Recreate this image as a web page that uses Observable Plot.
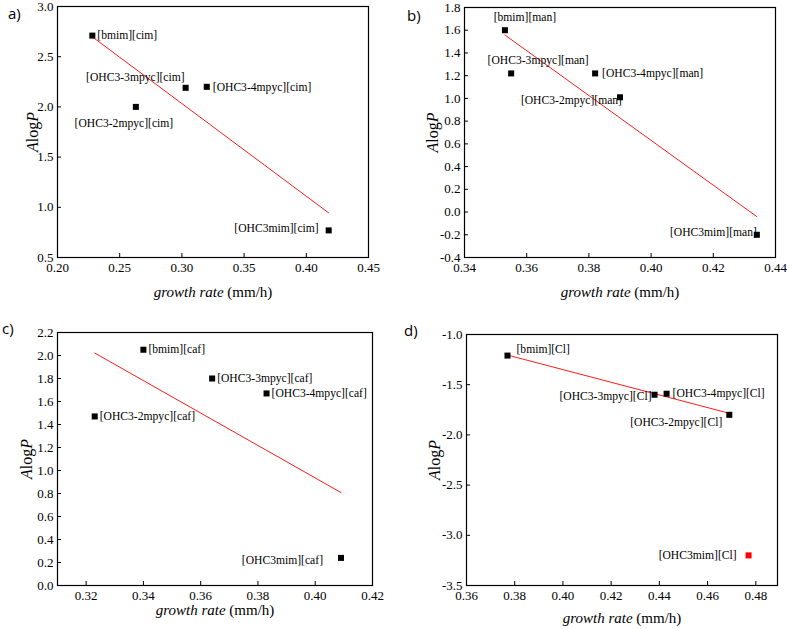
<!DOCTYPE html>
<html><head><meta charset="utf-8">
<script src="https://cdn.jsdelivr.net/npm/d3@7"></script>
<script src="https://cdn.jsdelivr.net/npm/@observablehq/plot@0.6"></script>
<style>
body{margin:0;background:#fff;}
#root{position:relative;width:787px;height:629px;background:#fff;overflow:hidden;}
.panel{position:absolute;line-height:0;}
.panel svg{display:block;}
.letter{position:absolute;font-family:"Open Sans",sans-serif;font-size:15px;line-height:1;color:#000;}
</style></head><body><div id="root"></div>
<script>
// ---- data ----
const cations = ["[bmim]", "[OHC3-3mpyc]", "[OHC3-4mpyc]", "[OHC3-2mpyc]", "[OHC3mim]"];
const anions = ["cim", "man", "caf", "Cl"];
const panelLetters = ["a)", "b)", "c)", "d)"];

const growthA = [0.228, 0.303, 0.320, 0.263, 0.418];
const alogpA  = [2.71, 2.19, 2.20, 2.00, 0.77];
const growthB = [0.353, 0.355, 0.382, 0.390, 0.434];
const alogpB  = [1.60, 1.22, 1.22, 1.01, -0.20];
const growthC = [0.340, 0.364, 0.383, 0.323, 0.409];
const alogpC  = [2.05, 1.80, 1.67, 1.47, 0.24];
const growthD = [0.377, 0.438, 0.443, 0.469, 0.477];
const alogpD  = [-1.21, -1.60, -1.59, -1.80, -3.20];
const excludedFromFitD = ["[OHC3mim]"];

const xDomainA = [0.20, 0.45], yDomainA = [0.5, 3.0];
const xDomainB = [0.34, 0.44], yDomainB = [-0.4, 1.8];
const xDomainC = [0.31, 0.42], yDomainC = [0.0, 2.2];
const xDomainD = [0.36, 0.489], yDomainD = [-3.5, -1.0];

const xTicksA = [0.20, 0.25, 0.30, 0.35, 0.40, 0.45];
const yTicksA = [0.5, 1.0, 1.5, 2.0, 2.5, 3.0];
const xTicksB = [0.34, 0.36, 0.38, 0.40, 0.42, 0.44];
const yTicksB = [-0.4, -0.2, 0.0, 0.2, 0.4, 0.6, 0.8, 1.0, 1.2, 1.4, 1.6, 1.8];
const xTicksC = [0.32, 0.34, 0.36, 0.38, 0.40, 0.42];
const yTicksC = [0.0, 0.2, 0.4, 0.6, 0.8, 1.0, 1.2, 1.4, 1.6, 1.8, 2.0, 2.2];
const xTicksD = [0.36, 0.38, 0.40, 0.42, 0.44, 0.46, 0.48];
const yTicksD = [-3.5, -3.0, -2.5, -2.0, -1.5, -1.0];

const xTitle = "growth rate (mm/h)";
const yTitle = "AlogP";

// ---- layout / style (not data) ----
const serif = "'Liberation Serif', 'Times New Roman', serif";
const layouts = [
  {left: 0,   top: 0,   width: 393, height: 310, mt: 6,  mr: 25, mb: 53, ml: 57, xlo: 39, ylo: 31, letter: [8, 6],
   place: [["start", 5, 0], ["end", -1, -11], ["start", 6, 0], ["middle", -12, 16], ["end", -10, -2]]},
  {left: 393, top: 0,   width: 394, height: 310, mt: 7,  mr: 12, mb: 53, ml: 71, xlo: 39, ylo: 38, letter: [407, 8],
   place: [["middle", 20, -13], ["middle", 27, -13], ["start", 7, 0], ["end", 2, 3], ["end", 0, -2]]},
  {left: 0,   top: 310, width: 393, height: 319, mt: 22, mr: 21, mb: 44, ml: 57, xlo: 29, ylo: 37, letter: [2, 321],
   place: [["start", 5, 0], ["start", 5, 0], ["start", 5, 0], ["start", 5, 0], ["end", -18, 2]]},
  {left: 393, top: 310, width: 394, height: 319, mt: 24, mr: 10, mb: 44, ml: 73, xlo: 37, ylo: 38, letter: [404, 323],
   place: [["start", 9, -6], ["end", -3, 2], ["start", 6, 0], ["end", -7, 7], ["end", -12, 0]]}
];

const panels = [
  {anion: anions[0], growth: growthA, alogp: alogpA, xDomain: xDomainA, yDomain: yDomainA, xTicks: xTicksA, yTicks: yTicksA, excluded: []},
  {anion: anions[1], growth: growthB, alogp: alogpB, xDomain: xDomainB, yDomain: yDomainB, xTicks: xTicksB, yTicks: yTicksB, excluded: []},
  {anion: anions[2], growth: growthC, alogp: alogpC, xDomain: xDomainC, yDomain: yDomainC, xTicks: xTicksC, yTicks: yTicksC, excluded: []},
  {anion: anions[3], growth: growthD, alogp: alogpD, xDomain: xDomainD, yDomain: yDomainD, xTicks: xTicksD, yTicks: yTicksD, excluded: excludedFromFitD}
];

const root = document.getElementById("root");

panels.forEach((p, k) => {
  const L = layouts[k];
  const rows = cations.map((c, i) => ({
    label: c + "[" + p.anion + "]", x: p.growth[i], y: p.alogp[i],
    outlier: p.excluded.includes(c), place: L.place[i]
  }));
  const fitRows = rows.filter(r => !r.outlier);
  const textMarks = rows.map(r => Plot.text([r], {
    x: "x", y: "y", text: "label", textAnchor: r.place[0], dx: r.place[1], dy: r.place[2],
    fontSize: 11.6, fontFamily: serif, fill: "black"
  }));

  const svg = Plot.plot({
    width: L.width, height: L.height,
    marginTop: L.mt, marginRight: L.mr, marginBottom: L.mb, marginLeft: L.ml,
    x: {domain: p.xDomain},
    y: {domain: p.yDomain},
    style: {fontFamily: serif, fontSize: "13px", color: "black", background: "white", overflow: "visible"},
    marks: [
      Plot.axisX(p.xTicks, {tickSize: -4, tickPadding: 9, tickFormat: d => d.toFixed(2), fontSize: 13, fontFamily: serif,
        label: xTitle, labelAnchor: "center", labelOffset: L.xlo, labelArrow: "none"}),
      Plot.axisY(p.yTicks, {tickSize: -4, tickPadding: 8, tickFormat: d => d.toFixed(1), fontSize: 13, fontFamily: serif,
        label: yTitle, labelAnchor: "center", labelOffset: L.ylo, labelArrow: "none"}),
      Plot.linearRegressionY(fitRows, {x: "x", y: "y", stroke: "#ff1a1a", strokeWidth: 1, ci: 0}),
      Plot.dot(rows.filter(r => !r.outlier), {x: "x", y: "y", symbol: "square", r: 3.4, fill: "black", stroke: null}),
      Plot.dot(rows.filter(r => r.outlier), {x: "x", y: "y", symbol: "square", r: 3.4, fill: "red", stroke: null}),
      ...textMarks,
      Plot.frame({stroke: "black", strokeWidth: 1.2})
    ]
  });

  // mixed italic axis titles
  const xl = svg.querySelector('g[aria-label="x-axis label"] text');
  if (xl) {
    xl.innerHTML = '<tspan font-style="italic">growth rate</tspan> (mm/h)';
    xl.style.fontSize = "15px";
  }
  const yl = svg.querySelector('g[aria-label="y-axis label"] text');
  if (yl) {
    yl.innerHTML = '<tspan font-style="italic">A</tspan>log<tspan font-style="italic">P</tspan>';
    yl.style.fontSize = "16px";
  }

  const wrap = document.createElement("div");
  wrap.className = "panel";
  wrap.style.left = L.left + "px";
  wrap.style.top = L.top + "px";
  wrap.appendChild(svg);
  root.appendChild(wrap);

  const letter = document.createElement("div");
  letter.className = "letter";
  letter.textContent = panelLetters[k];
  letter.style.left = L.letter[0] + "px";
  letter.style.top = L.letter[1] + "px";
  root.appendChild(letter);
});
</script>
</body></html>
